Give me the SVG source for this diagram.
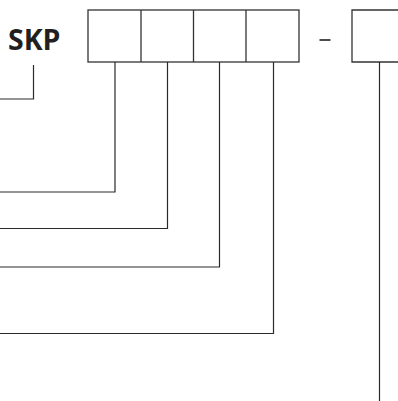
<svg xmlns="http://www.w3.org/2000/svg" width="398" height="401" viewBox="0 0 398 401">
<style>
.box{fill:none;stroke:#333;stroke-width:1.3}
.ln{fill:none;stroke:#2a2a2a;stroke-width:1.2}
.t{font-family:"Open Sans","Noto Sans",sans-serif;font-weight:bold;fill:#231f20}
</style>
<rect width="398" height="401" fill="#fff"/>
<g id="label"><text class="t" x="8" y="49.5" font-size="28.5">SKP</text></g>
<g id="code-boxes">
<rect class="box" x="88" y="10" width="211" height="52"/>
<line class="box" x1="141" y1="10" x2="141" y2="62"/>
<line class="box" x1="193.5" y1="10" x2="193.5" y2="62"/>
<line class="box" x1="246" y1="10" x2="246" y2="62"/>
</g>
<g id="dash"><line x1="319.5" y1="40" x2="330.5" y2="40" stroke="#231f20" stroke-width="1.6"/></g>
<g id="suffix-box"><path class="box" d="M400,10 H352 V62 H400"/></g>
<g id="connectors">
<path class="ln" d="M33.5,65 V99 H0"/>
<path class="ln" d="M115,62 V192 H0"/>
<path class="ln" d="M167.5,62 V228.5 H0"/>
<path class="ln" d="M219.5,62 V267 H0"/>
<path class="ln" d="M273.5,62 V333.5 H0"/>
<path class="ln" d="M379.5,62 V401"/>
</g>
</svg>
